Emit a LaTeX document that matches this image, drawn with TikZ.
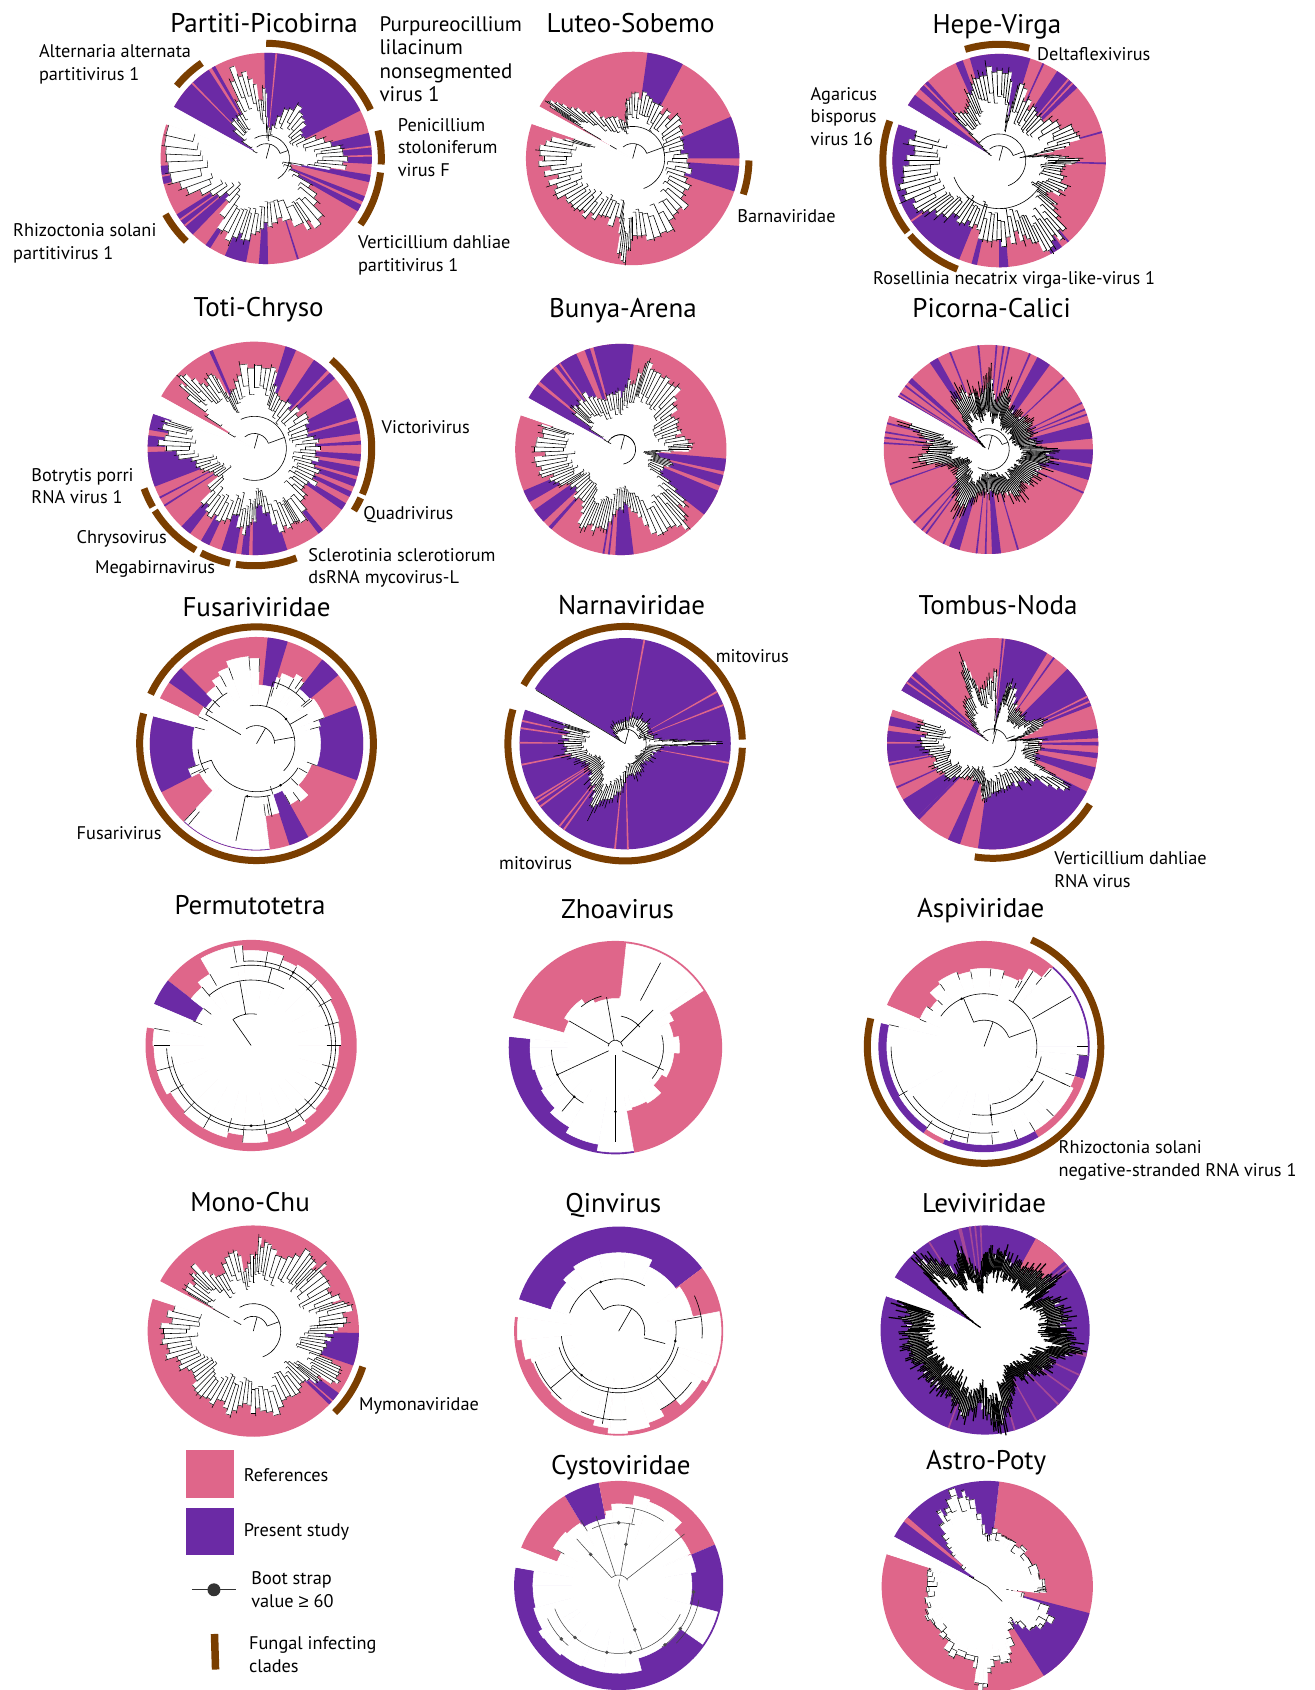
\documentclass[tikz,border=0pt]{standalone}
\usepackage{fontspec}
\setmainfont{PT Sans}
\newfontfamily\gefont{Liberation Sans}
\definecolor{pinkc}{HTML}{DF668A}
\definecolor{purc}{HTML}{6B2AA5}
\definecolor{brownc}{HTML}{7A3E00}
\tikzset{
  fungal/.style={draw=brownc,line width=7pt},
  branch/.style={draw=black,line width=0.6pt},
  title/.style={font=\fontsize{27}{30}\selectfont,inner sep=0pt,text height=17pt,text depth=6pt,yshift=-4pt},
  lab/.style={font=\fontsize{18.3}{22.6}\selectfont,align=left,anchor=west,inner sep=0pt,yshift=-1pt},
  biglab/.style={font=\fontsize{21}{23.3}\selectfont,align=left,anchor=west,inner sep=0pt},
}
\newcommand\wdg[3]{\fill[#1] (0,0) -- (#2:\RR) arc[start angle=#2,end angle=#3,radius=\RR] -- cycle;}
\newcommand\wset[2]{\foreach \wa/\wb in {#2}{\wdg{#1}{\wa}{\wb}}}
\newcommand\gapw[2]{\filldraw[white,line width=.5pt] (0,0) -- (#1:\RR+1.5) arc[start angle=#1,end angle=#2,radius=\RR+1.5] -- cycle;}
\newcommand\garc[3]{\draw[fungal] (#2:#1*\RR) arc[start angle=#2,end angle=#3,radius=#1*\RR];}
\newcommand\ta[3]{\draw[branch] (#2:#1*\RR) arc[start angle=#2,end angle=#3,radius=#1*\RR];}
\newcommand\tb[3]{\draw[branch] (#3:#1*\RR) -- (#3:#2*\RR);}
\newcommand\bd[2]{\fill[black] (#2:#1*\RR) circle[radius=1.3];}
% blob list; lines per pair; line width; inner fraction; tip extension
\newcommand\treeblob[5]{%
  \fill[white] (0,0) \foreach \va/\vr in {#1}{-- (\va:\vr*.78*\RR)} -- cycle;
  \foreach \pass in {0,1}{%
    \pgfmathtruncatemacro\seedv{\RR*37+#2}\pgfmathsetseed{\seedv}%
    \foreach \va/\vr [remember=\va as \pa (initially 999),remember=\vr as \pr (initially 0)] in {#1}{%
      \ifdim\pa pt<900pt
        \foreach \k in {1,...,#2}{%
          \pgfmathsetmacro\tt{(\k-.5)/#2}%
          \pgfmathsetmacro\ang{\pa+(\va-\pa)*\tt}%
          \pgfmathsetmacro\da{(\va-\pa)/#2}%
          \pgfmathsetmacro\sprad{(\pr+(\vr-\pr)*\tt)*\RR*(1-.14*rnd)}%
          \pgfmathsetmacro\tip{\sprad*(1+#5*rnd)}%
          \pgfmathsetmacro\st{\sprad*#4*(1+.22*rnd)}%
          \pgfmathsetmacro\aL{\ang-\da/2}%
          \pgfmathsetmacro\aR{\ang+\da/2}%
          \ifnum\pass=0
            \filldraw[white,line width=.5pt] (0,0) -- (\aL:\sprad) -- (\aR:\sprad) -- cycle;
          \else
            \draw[line width=#3] (\aL:\st) -- (\aL:\tip);
            \draw[line width=#3*.8] (\aL:\st) -- (\aR:\st);
            \draw[line width=#3*.8] (\aL:\sprad) -- (\aR:\sprad);
          \fi
        }%
      \fi
    }%
  }%
}
% stair-shaped white area: each entry a/r closes a step at radius r from the last angle to a
\newcommand\sparseblob[2]{%
  \foreach \va/\vr [remember=\va as \pa (initially 999)] in {#1}{%
    \ifdim\pa pt<900pt
      \filldraw[white,line width=.5pt] (0,0) -- (\pa:\vr*\RR) arc[start angle=\pa,end angle=\va,radius=\vr*\RR] -- cycle;
    \fi
  }%
  \fill[white] (0,0) circle[radius=.45*\RR];
  \ifdim#2pt<1pt
    \foreach \va/\vr in {#1}{\draw[line width=.5pt] (\va:\vr*#2*\RR) -- (\va:\vr*\RR);}%
  \fi
}
\newcommand\core[3]{\tb{0}{.1}{75}\ta{.14}{130}{20}\tb{.1}{.14}{75}\ta{#1}{#2}{#3}\tb{.14}{#1}{20}}
\begin{document}
\begin{tikzpicture}[x=1.0779pt,y=1.0779pt]
\useasboundingbox (0,0) rectangle (1220,-1568);
\fill[white] (0,0) rectangle (1220,-1568);

%% 1 Partiti-Picobirna
\begin{scope}[shift={(247,-147)}]\def\RR{98}
\wdg{pinkc}{151}{-199}
\wset{purc}{91/27,14/-3,-9/-13,-21/-24,-26/-30,-72/-73,-89/-94,-101/-113,-122/-125,-134/-148,-166/-176,119/121,123/151}
\wset{pinkc}{85/84,21/20,7/6,2/1,-140/-141,-144/-145,-170/-171,135/134}
\gapw{151}{161}
\treeblob{150/.1,140/.35,130/.55,125/.5,118/.55,112/.95,106/.92,100/.8,95/.5,91/.85,88/.3,80/.3,70/.5,60/.6,50/.6,40/.5,30/.4,20/.6,10/.7,5/.78,-2/.82,-8/.82,-12/.25,-25/.3,-35/.55,-45/.78,-55/.82,-60/.78,-75/.6,-85/.65,-92/.7,-98/.7,-105/.88,-110/.8,-117/.88,-125/.82,-135/.5,-145/.6,-155/.82,-165/.98,-178/1,-187/.98,-199/.98}{2}{.55}{.6}{.06}
\core{.22}{120}{-60}
\garc{1.09}{90}{25}\garc{1.09}{14}{-3}\garc{1.09}{-7}{-35}\garc{1.09}{124}{141}\garc{1.09}{-134}{-151}
\end{scope}

%% 2 Luteo-Sobemo
\begin{scope}[shift={(587,-147)}]\def\RR{99}
\wdg{pinkc}{151}{-199}
\wset{purc}{82/62,23/0,-4/-18}
\gapw{151}{161}
\treeblob{150/.1,148/1,146/.98,142/.82,135/.65,125/.5,110/.42,100/.38,96/.6,88/.65,78/.65,68/.6,55/.55,40/.6,25/.55,10/.5,-5/.55,-20/.6,-35/.65,-50/.72,-65/.78,-80/.82,-90/.82,-94/1,-98/1,-102/.65,-115/.68,-125/.72,-135/.72,-145/.72,-155/.82,-165/.82,-175/.88,-185/.9,-195/.78,-199/.55}{3}{.6}{.62}{.05}
\core{.3}{110}{-70}
\garc{1.09}{-1}{-18}
\end{scope}

%% 3 Hepe-Virga
\begin{scope}[shift={(927,-149)}]\def\RR{99}
\wdg{pinkc}{149}{-200}
\wset{purc}{149/142,138/132,114/110,106/73,66/65,57/43,16/15,-1/-2,-49/-50,-54/-61,-85/-90,-102/-105,-112/-200}
\wset{pinkc}{135/134,50/49,47/46,-145/-146}
\gapw{149}{160}
\treeblob{148/.1,140/.25,134/.62,125/.55,118/.65,112/.75,106/.85,98/.92,88/.92,82/.88,78/.35,75/.82,65/.65,55/.6,45/.6,30/.7,20/.82,12/.78,8/.3,5/.6,0/.78,-3/.7,-10/.65,-20/.7,-28/.7,-35/.6,-40/.75,-48/.98,-55/.92,-62/.98,-68/.82,-75/.78,-85/.82,-95/.76,-105/.78,-115/.68,-125/.7,-135/.78,-143/.82,-150/.98,-160/.98,-170/.98,-180/.9,-190/.9,-200/.92}{3}{.7}{.62}{.08}
\core{.25}{140}{-70}\ta{.45}{-30}{-160}
\garc{1.09}{107}{75}\garc{1.09}{-200}{-142}\garc{1.09}{-140}{-111}
\end{scope}

%% 4 Toti-Chryso
\begin{scope}[shift={(236,-416)}]\def\RR{99}
\wdg{pinkc}{151}{-199}
\wset{purc}{115/113,73/67,56/47,45/41,28/17,15/8,4/2,-3/-7,-10/-15,-17/-21,-24/-27,-31/-35,-50/-53,-72/-91,-93/-97,-101/-103,-108/-100,-120/-115,-133/-127,-148/-147,-153/-152,-159/-178,-181/-187,-190/-199}
\gapw{151}{161}
\treeblob{150/.15,140/1,135/1,128/.75,120/.9,116/.58,110/.6,100/.82,85/.85,75/.82,70/.6,60/.55,45/.55,30/.6,15/.55,5/.65,-5/.6,-15/.65,-25/.7,-35/.65,-45/.65,-58/.9,-62/.88,-70/.88,-80/.65,-87/.6,-92/.78,-98/.88,-105/.65,-115/.76,-125/.78,-135/.7,-145/.44,-155/.5,-165/.6,-175/.76,-185/.93,-195/.93,-199/.88}{3}{.55}{.64}{.05}
\core{.3}{115}{-110}
\garc{1.1}{49}{-23}\garc{1.1}{-25}{-32}\garc{1.1}{-150}{-160}\garc{1.1}{-148}{-120}\garc{1.1}{-117}{-102}\garc{1.1}{-99}{-69}
\end{scope}

%% 5 Bunya-Arena
\begin{scope}[shift={(576,-417)}]\def\RR{98}
\wdg{pinkc}{151}{-199}
\wset{purc}{151/142,140/115,110/107,105/83,-5/-12,-14/-20,-23/-38,-83/-93,-96/-97,-99/-100,-131/-133,-137/-145,-150/-157}
\wset{pinkc}{130/128,126/125}
\gapw{151}{161}
\treeblob{150/.1,140/.65,135/.6,125/.65,115/.6,105/.55,95/.6,88/.55,82/.7,75/.76,72/1,65/.82,55/.85,45/.82,35/.65,25/.6,15/.6,5/.7,0/.76,-5/.33,-10/.38,-15/.55,-20/.5,-30/.44,-38/.76,-45/.88,-51/1,-60/.98,-70/.88,-78/.65,-85/.55,-92/.6,-100/.82,-106/.88,-112/.76,-118/.88,-125/.7,-135/.65,-145/.6,-150/.7,-158/.76,-165/.88,-175/.82,-185/.82,-195/.82,-199/.76}{3}{.55}{.6}{.06}
\core{.14}{150}{-80}
\end{scope}

%% 6 Picorna-Calici
\begin{scope}[shift={(917,-417)}]\def\RR{97}
\wdg{pinkc}{150}{-199}
\wset{purc}{150/149,148/147,143/142,140/137,124/119,112/111,96/95,86/85,82/81,79/78,67/66,62/54,44/43,27/26,23/22,20/19,15/6,0/-8,-10/-17,-24/-25,-73/-74,-83/-88,-91/-92,-96/-97,-106/-112,-115/-116,-126/-127,-129/-130,-136/-135,-161/-160,-183/-184,-186/-187,-189/-190,-194/-195}
\gapw{150}{161}
\treeblob{150/.05,135/.15,125/.55,115/.65,105/.55,100/.55,92/.6,88/.72,80/.45,72/.62,65/.5,55/.45,45/.45,35/.5,25/.45,15/.42,5/.5,-2/.65,-8/.6,-15/.58,-25/.55,-35/.55,-45/.5,-55/.55,-65/.5,-75/.45,-85/.42,-95/.42,-105/.5,-115/.65,-125/.55,-135/.45,-150/.35,-160/.4,-170/.7,-180/.65,-190/.6,-199/.9}{5}{.8}{.55}{.25}
\core{.2}{120}{-120}
\end{scope}

%% 7 Fusariviridae
\begin{scope}[shift={(238,-690)}]\def\RR{99}
\wdg{pinkc}{155}{-195}
\wset{purc}{145/135,84/73,52/40,21/-20,-61/-72,-83/-133,-153/-195}
\gapw{155}{165}
\sparseblob{155/.6,145/.6,135/.58,125/.66,118/.72,110/.76,95/.82,88/.8,73/.55,70/.65,60/.7,55/.75,52/.72,40/.65,38/.66,21/.68,15/.62,-20/.6,-30/.55,-45/.55,-53/.68,-61/.65,-72/.5,-80/.68,-83/.68,-130/.99,-133/.99,-153/.6,-155/.68,-160/.68,-195/.6}{.84}
\tb{0}{.1}{60}\ta{.17}{125}{0}\tb{.1}{.17}{60}\ta{.36}{100}{-45}\ta{.45}{-30}{-160}\tb{.17}{.36}{10}\tb{.17}{.55}{150}\tb{.36}{.6}{75}\tb{.36}{.55}{30}\ta{.5}{-100}{-75}\tb{.5}{.93}{-102}\tb{.5}{.7}{-78}\tb{.45}{.55}{-160}\ta{.55}{-150}{-175}\ta{.55}{150}{120}\ta{.6}{75}{40}\bd{.36}{40}\bd{.5}{-100}\bd{.45}{-60}
\garc{1.095}{155}{-195}
\end{scope}

%% 8 Narnaviridae
\begin{scope}[shift={(580,-690)}]\def\RR{98}
\wdg{purc}{149}{-199}
\wset{pinkc}{80/79,30/29,22/21,-10/-11,-88/-89,-95/-96,-125/-126,-128/-129,-143/-144,-146/-147,-148/-149,-180/-181,-188/-189,-192/-193,-168/-169}
\gapw{149}{161}
\treeblob{148/.05,125/.22,100/.2,80/.25,60/.3,40/.3,20/.25,5/.35,0/.95,-3/.4,-15/.3,-30/.3,-45/.25,-60/.3,-75/.32,-90/.35,-100/.55,-110/.6,-118/.7,-125/.55,-135/.5,-145/.45,-155/.45,-165/.55,-175/.6,-185/.62,-195/.62,-199/.62}{4}{.6}{.62}{.22}
\draw[branch] (0,0) -- (149:.98*\RR);
\core{.2}{60}{-80}
\garc{1.11}{150}{2}\garc{1.11}{-2}{-197}
\end{scope}

%% 9 Tombus-Noda
\begin{scope}[shift={(921,-690)}]\def\RR{98}
\wdg{pinkc}{150}{-199}
\wset{purc}{150/137,85/84,83/59,55/54,45/21,8/3,1/-1,-5/-8,-13/-20,-27/-98,-108/-115,-134/-136,-136/-148,-155/-156,-168/-169,-170/-187,-190/-195}
\wset{pinkc}{145/144,141/140,27/26,24/23,-180/-181}
\gapw{150}{161}
\treeblob{148/.05,135/.3,125/.45,115/.55,110/.95,105/.55,95/.6,87/.72,83/.1,80/.3,75/.6,72/.65,60/.45,50/.4,40/.4,30/.45,22/.6,15/.4,10/.2,8/.3,5/.5,-5/.5,-15/.45,-25/.5,-31/.93,-40/.55,-50/.5,-65/.45,-80/.48,-92/.5,-100/.55,-105/.45,-115/.4,-125/.4,-140/.55,-150/.62,-160/.6,-170/.62,-180/.7,-190/.72,-199/.72}{4}{.7}{.65}{.12}
\core{.22}{10}{-90}
\garc{1.085}{-32}{-99}
\end{scope}

%% 10 Permutotetra
\begin{scope}[shift={(233,-970)}]\def\RR{98}
\wdg{pinkc}{142}{-190}
\wdg{purc}{157}{142}
\gapw{157}{170}
\sparseblob{157/.6,142/.57,130/.72,120/.78,100/.95,95/.95,80/.9,70/.9,60/.86,45/.88,30/.88,15/.86,0/.85,-15/.83,-30/.83,-45/.85,-55/.87,-65/.9,-80/.85,-95/.92,-105/.85,-120/.9,-135/.9,-150/.88,-165/.92,-180/.92,-190/.93}{.84}
\draw[branch] (0,0) -- (125:.3*\RR);\ta{.3}{125}{80}\tb{.3}{.62}{100}\ta{.62}{130}{60}\ta{.76}{105}{-172}\ta{.8}{95}{-178}\tb{.62}{.76}{75}\bd{.76}{-90}\bd{.8}{60}
\end{scope}

%% 11 Zhoavirus
\begin{scope}[shift={(571,-972)}]\def\RR{99}
\wdg{pinkc}{164}{-80}
\wdg{purc}{-80}{-186}
\gapw{164}{174}
\sparseblob{164/.5,150/.5,125/.55,115/.5,85/.46,84/.48,38/.98,33/.98,25/.6,10/.55,-5/.6,-30/.55,-45/.5,-60/.6,-75/.58,-80/.6,-100/.98,-120/.92,-135/.86,-150/.8,-165/.78,-180/.8,-186/.8}{2}
\ta{.07}{170}{10}\tb{.07}{.48}{100}\tb{.07}{.5}{150}\tb{.07}{.6}{-155}\tb{.07}{.88}{-90}\tb{.07}{.5}{-25}\tb{.07}{.5}{45}\tb{.5}{.9}{62}\ta{.3}{80}{40}\ta{.5}{130}{105}\ta{.45}{15}{-40}\ta{.6}{-120}{-178}\tb{.6}{.78}{-130}\bd{.6}{-130}\bd{.6}{-155}\bd{.6}{-90}
\end{scope}

%% 12 Aspiviridae
\begin{scope}[shift={(913,-971)}]\def\RR{98}
\wdg{pinkc}{157}{49}
\wdg{purc}{49}{-5}
\wdg{purc}{-5}{-18}
\wdg{pinkc}{-18}{-59}
\wdg{purc}{-59}{-113}
\wdg{pinkc}{-113}{-125}
\wdg{purc}{-125}{-193}
\gapw{157}{167}
\sparseblob{157/.66,145/.66,135/.62,125/.72,110/.75,100/.72,85/.74,75/.74,62/.7,60/.72,50/.85,49/.97,0/.98,-5/.98,-18/.9,-25/.9,-45/.93,-59/.93,-70/.93,-85/.93,-100/.93,-110/.93,-125/.95,-150/.93,-193/.92}{.9}
\draw[branch] (0,0) -- (70:.25*\RR);\ta{.25}{113}{22}\tb{.25}{.5}{113}\tb{.25}{.47}{20}\ta{.5}{145}{75}\ta{.5}{62}{-12}\tb{.5}{.85}{57}\tb{.53}{.95}{30}\ta{.55}{-10}{-82}\tb{.55}{.75}{-84}\ta{.65}{-30}{-100}\tb{.55}{.85}{-25}\ta{.82}{-80}{-145}\ta{.88}{-100}{-180}\bd{.55}{-35}\bd{.5}{115}\bd{.65}{-84}
\garc{1.105}{66}{-194}
\end{scope}

%% 13 Mono-Chu
\begin{scope}[shift={(235,-1235)}]\def\RR{98}
\wdg{pinkc}{152}{-198}
\wset{purc}{-1/-19,-36/-41,-42/-44}
\gapw{152}{162}
\treeblob{152/.1,149/.82,140/.76,134/.88,125/.7,115/.7,104/.9,97/.6,90/.76,85/.92,78/.92,65/.76,54/1,47/.88,42/.98,30/.82,20/.9,15/1,5/1,5/.92,-2/.76,-10/.76,-19/.7,-24/1,-30/.98,-36/.82,-40/.76,-49/.76,-60/.76,-72/.88,-85/.82,-95/.74,-105/.9,-115/.82,-125/.78,-135/.82,-145/.78,-155/.82,-165/.9,-175/.9,-185/.9,-198/.82}{3}{.55}{.62}{.04}
\core{.26}{120}{-70}
\garc{1.09}{-18}{-45}
\end{scope}

%% 14 Qinvirus
\begin{scope}[shift={(574,-1235)}]\def\RR{97}
\wdg{purc}{162.5}{37}
\wdg{pinkc}{37}{-188}
\gapw{162.5}{172}
\sparseblob{162.5/.66,137/.68,125/.72,105/.75,85/.75,65/.75,36/.68,12/.72,11/.72,-15/.98,-20/.98,-30/.97,-40/.92,-50/.92,-62/.85,-72/.92,-85/.96,-95/.98,-96/.98,-105/.93,-125/.88,-137/.88,-150/.87,-160/.87,-163/.88,-175/.93,-188/.97}{2}
\draw[branch] (0,0) -- (60:.25*\RR);\ta{.25}{125}{-10}\tb{.25}{.48}{125}\tb{.25}{.46}{-15}\ta{.5}{160}{60}\ta{.55}{10}{-175}\ta{.59}{-15}{-165}\tb{.55}{.8}{10}\tb{.55}{.85}{-50}\tb{.55}{.9}{-100}\tb{.55}{.85}{-140}\ta{.8}{25}{-5}\ta{.85}{-35}{-62}\ta{.85}{-85}{-115}\ta{.85}{-130}{-160}\bd{.5}{110}\bd{.55}{-10}\bd{.55}{-130}
\end{scope}

%% 15 Leviviridae
\begin{scope}[shift={(914,-1234)}]\def\RR{97}
\wdg{purc}{150}{-199}
\wdg{pinkc}{61}{41}
\wset{pinkc!50!purc}{123/122,105/103,99/98,96/95,93/92,39/38,36/35,-13/-15,-25/-26,-35/-36,-45/-46,-60/-61,-73/-74,-110/-111}
\gapw{150}{161}
\treeblob{150/.05,140/.4,135/.95,125/.85,115/.6,108/.85,105/.7,95/.5,90/.75,82/.78,75/.75,65/.72,55/.72,45/.8,35/.85,30/.6,20/.78,10/.8,0/.8,-5/.85,-13/.95,-20/.75,-30/.72,-40/.65,-50/.6,-60/.55,-70/.7,-80/.95,-85/.92,-95/.75,-105/.9,-115/.75,-125/.72,-135/.75,-145/.75,-155/.75,-165/.8,-175/.82,-185/.8,-195/.85,-199/.85}{8}{1.2}{.68}{.15}
\end{scope}

%% 16 Cystoviridae
\begin{scope}[shift={(574,-1471)}]\def\RR{97}
\wdg{pinkc}{159}{121}
\wdg{purc}{121}{101}
\wdg{pinkc}{101}{23}
\wdg{purc}{23}{-190}
\gapw{159}{170}
\sparseblob{159/.63,150/.63,135/.72,122/.7,121/.68,101/.65,100/.68,95/.72,81/.78,80/.78,70/.87,52/.85,45/.85,24/.75,23/.72,10/.75,-15/.7,-35/.98,-73/.72,-75/.72,-85/.84,-100/.84,-115/.84,-130/.85,-145/.87,-150/.88,-165/.84,-180/.82,-190/.82}{2}
\begin{scope}[branch/.style={draw=black!75,line width=.5pt}]
\draw[branch] (0,0) -- (80:.06*\RR) (0,0) -- (-70:.1*\RR);\ta{.1}{130}{30}\tb{.1}{.6}{132}\tb{.1}{.7}{108}\tb{.1}{.6}{80}\tb{.1}{.8}{38}\tb{.1}{.65}{-70}\ta{.65}{-25}{-105}\ta{.72}{-5}{-55}\ta{.78}{-10}{-45}\ta{.65}{-105}{-160}\ta{.75}{-130}{-155}\ta{.6}{115}{75}\tb{.6}{.75}{78}\ta{.75}{85}{55}\tb{.6}{.68}{150}\tb{.6}{.72}{120}
\end{scope}
\foreach \dr/\da in {.4/132,.4/80,.45/-70,.72/-5,.72/-35,.72/-52,.65/-100,.65/-130,.75/-137,.65/-80,.6/90}{\fill[black!70] (\da:\dr*\RR) circle[radius=1.8];}
\end{scope}

%% 17 Astro-Poty
\begin{scope}[shift={(916,-1472)}]\def\RR{98}
\wdg{pinkc}{83.5}{-198}
\wdg{purc}{152}{83.5}
\wdg{pinkc}{142}{139}
\wdg{purc}{-14.6}{-57.6}
\gapw{152}{162}
\treeblob{150/.1,138/.4,132/.65,124/.92,119/.86,112/1,105/1,102/.92,95/.65,90/.55,85/.56,75/.56,63/.52,50/.52,35/.52,15/.55,0/.6,-3/.6,-6/.6,-8/.2,-10/.27,-25/.8,-35/.72,-42/.65,-50/.48,-55/.44,-60/.48,-70/.66,-75/.82,-85/.7,-90/1,-95/1,-100/.76,-115/.78,-125/.7,-135/.66,-145/.66,-155/.65,-165/.65,-175/.62,-185/.6,-195/.6,-198/.55}{2}{.55}{.84}{.02}
\draw[branch] (0,0) -- (150:.2*\RR);\draw[branch] (0,0) -- (-45:.2*\RR);
\end{scope}

%% Legend
\fill[pinkc] (173,-1345) rectangle (217,-1390);
\fill[purc] (173,-1399) rectangle (217,-1443);
\coordinate (bsL) at (178,-1475);
\coordinate (bsR) at (219,-1475);
\draw[line width=.7pt,black!80] (bsL) -- (bsR);
\fill[black!80] (198.5,-1475) circle[radius=6];
\draw[draw=brownc,line width=7.5pt] (199,-1516) -- (200,-1549);

%% Titles
\node[title] (t1) at (245,-21) {Partiti-Picobirna};
\node[title] (t2) at (585,-21) {Luteo-Sobemo};
\node[title] (t3) at (925,-22) {Hepe-Virga};
\node[title] (t4) at (240,-285) {Toti-Chryso};
\node[title] (t5) at (578,-286) {Bunya-Arena};
\node[title] (t6) at (920,-286) {Picorna-Calici};
\node[title] (t7) at (238,-563) {Fusariviridae};
\node[title] (t8) at (586,-561) {Narnaviridae};
\node[title] (t9) at (926,-561) {Tombus-Noda};
\node[title] (t10) at (232,-840) {Permutotetra};
\node[title] (t11) at (573,-843) {Zhoavirus};
\node[title] (t12) at (910,-842) {Aspiviridae};
\node[title] (t13) at (232,-1115) {Mono-Chu};
\node[title] (t14) at (569,-1116) {Qinvirus};
\node[title] (t15) at (913,-1116) {Leviviridae};
\node[title] (t16) at (576,-1359) {Cystoviridae};
\node[title] (t17) at (915,-1355) {Astro-Poty};

%% Labels
\node[lab] (l1) at (36,-59) {Alternaria alternata\\partitivirus 1};
\node[lab] (l2) at (12,-225) {Rhizoctonia solani\\partitivirus 1};
\node[biglab] (l3) at (352,-55) {Purpureocillium\\lilacinum\\nonsegmented\\virus 1};
\node[lab] (l4) at (369,-136) {Penicillium\\stoloniferum\\virus F};
\node[lab] (l5) at (332,-236) {Verticillium dahliae\\partitivirus 1};
\node[lab] (l6) at (684,-200) {Barnaviridae};
\node[lab] (l7) at (962,-49) {Deltaflexivirus};
\node[lab] (l8) at (752,-107) {Agaricus\\bisporus\\virus 16};
\node[lab] (l9) at (810,-259) {Rosellinia necatrix virga-like-virus 1};
\node[lab] (l10) at (354,-395) {Victorivirus};
\node[lab] (l11) at (337,-477) {Quadrivirus};
\node[lab] (l12) at (29,-450) {Botrytis porri\\RNA virus 1};
\node[lab] (l13) at (71,-499) {Chrysovirus};
\node[lab] (l14) at (88,-527) {Megabirnavirus};
\node[lab] (l15) at (286,-526) {Sclerotinia sclerotiorum\\dsRNA mycovirus-L};
\node[lab] (l16) at (71,-772) {Fusarivirus};
\node[lab] (l17) at (664,-608) {mitovirus};
\node[lab] (l18) at (463,-800) {mitovirus};
\node[lab] (l19) at (978,-806) {Verticillium dahliae\\RNA virus};
\node[lab] (l20) at (982,-1076) {Rhizoctonia solani\\negative-stranded RNA virus 1};
\node[lab] (l21) at (333,-1303) {Mymonaviridae};
\node[lab] (l22) at (226,-1368) {References};
\node[lab] (l23) at (226,-1420) {Present study};
\node[lab] (l24) at (233,-1474) {Boot strap\\value {\gefont ≥} 60};
\node[lab] (l25) at (231,-1534) {Fungal infecting\\clades};
\end{tikzpicture}
\end{document}
